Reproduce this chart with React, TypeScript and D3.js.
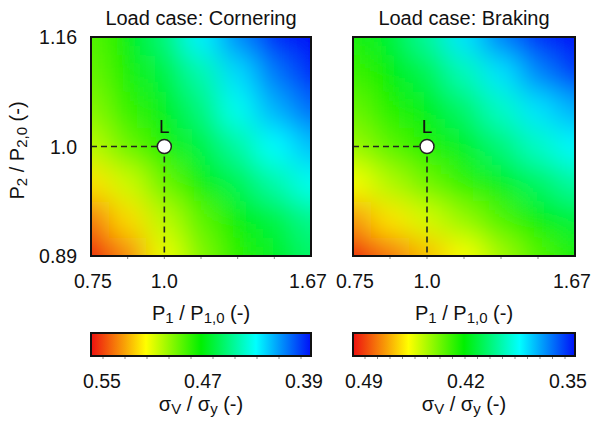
import React from 'react';
import * as d3 from 'd3';

// ---------- data ----------
const p1Levels = [0.75, 0.875, 1.0, 1.1675, 1.335, 1.5025, 1.67];
const p2Levels = [1.16, 1.1067, 1.0533, 1.0, 0.9633, 0.9267, 0.89]; // top -> bottom
const p1Ticks = [0.75, 1.0, 1.67];
const p1TickLabels = ['0.75', '1.0', '1.67'];
const p2Ticks = [1.16, 1.0, 0.89];
const p2TickLabels = ['1.16', '1.0', '0.89'];

// sigma_V / sigma_y, rows top (P2=1.16) -> bottom (P2=0.89), cols P1 0.75 -> 1.67
const corneringStress = [
  [0.483, 0.470, 0.452, 0.428, 0.410, 0.394, 0.385],
  [0.486, 0.473, 0.460, 0.443, 0.424, 0.407, 0.394],
  [0.491, 0.478, 0.467, 0.451, 0.432, 0.417, 0.405],
  [0.499, 0.486, 0.473, 0.460, 0.445, 0.430, 0.419],
  [0.515, 0.502, 0.486, 0.471, 0.458, 0.444, 0.432],
  [0.533, 0.516, 0.499, 0.484, 0.471, 0.460, 0.448],
  [0.556, 0.531, 0.507, 0.490, 0.476, 0.466, 0.454],
];
const brakingStress = [
  [0.423, 0.413, 0.399, 0.381, 0.366, 0.354, 0.345],
  [0.428, 0.420, 0.409, 0.395, 0.381, 0.367, 0.356],
  [0.434, 0.425, 0.417, 0.406, 0.393, 0.381, 0.373],
  [0.441, 0.432, 0.424, 0.415, 0.404, 0.393, 0.384],
  [0.454, 0.444, 0.435, 0.426, 0.417, 0.407, 0.398],
  [0.471, 0.459, 0.449, 0.440, 0.430, 0.420, 0.412],
  [0.495, 0.476, 0.465, 0.454, 0.442, 0.431, 0.423],
];
const corneringRange = [0.55, 0.39];
const brakingRange = [0.49, 0.35];
const corneringBarTicks = [0.55, 0.47, 0.39];
const corneringBarLabels = ['0.55', '0.47', '0.39'];
const brakingBarTicks = [0.49, 0.42, 0.35];
const brakingBarLabels = ['0.49', '0.42', '0.35'];
const titles = ['Load case: Cornering', 'Load case: Braking'];
const refP1 = 1.0;
const refP2 = 1.0;
const refLabel = 'L';
const colorStops = ['#ee1010', '#ffff00', '#00f000', '#00ffff', '#0010f8'];

const FONT = "'Liberation Sans', Arial, sans-serif";

type PanelProps = {
  id: string;
  x0: number;
  x1: number;
  title: string;
  stress: number[][];
  range: number[];
  barTicks: number[];
  barLabels: string[];
  barMinor: number;
  showY: boolean;
};

const y0 = 37;
const y1 = 256;
const cbY0 = 333;
const cbY1 = 356;

const colorT = d3.piecewise(d3.interpolateRgb, colorStops);

function Panel({ id, x0, x1, title, stress, range, barTicks, barLabels, barMinor, showY }: PanelProps) {
  const xScale = d3.scaleLinear().domain([0.75, 1.0, 1.67]).range([x0, x0 + (x1 - x0) / 3, x1]);
  const yScale = d3.scaleLinear().domain([0.89, 1.0, 1.16]).range([y1, (y0 + y1) / 2, y0]);
  const color = d3.scaleLinear<number>().domain(range).range([0, 1]);
  const cellColor = (v: number) => colorT(Math.max(0, Math.min(1, color(v))));

  const xs = p1Levels.map((p) => xScale(p));
  const ys = p2Levels.map((p) => yScale(p));
  const ext = 50;
  const bound = (arr: number[], i: number, lo: boolean) => {
    if (lo) return i === 0 ? arr[0] - ext : (arr[i - 1] + arr[i]) / 2;
    return i === arr.length - 1 ? arr[i] + ext : (arr[i] + arr[i + 1]) / 2;
  };

  const cbScale = d3.scaleLinear().domain(range).range([x0, x1]);
  const cbLabelScale = d3.scaleLinear().domain(range).range([x0 + 11, x1 - 7]);
  const gradStops = d3.range(0, 1.0001, 0.05);
  const minorTicks = d3.range(barMinor).map((i) => x0 + 12 + (i * (x1 - x0 - 22)) / (barMinor - 1));
  const tickLabelShift = [2, 0, -3];

  const cx = (x0 + x1) / 2;
  const rx = xScale(refP1);
  const ry = yScale(refP2);

  return (
    <g>
      <defs>
        <clipPath id={`clip-${id}`}>
          <rect x={x0} y={y0} width={x1 - x0} height={y1 - y0} />
        </clipPath>
        <filter id={`blur-${id}`} filterUnits="userSpaceOnUse" x={x0 - 80} y={y0 - 80} width={x1 - x0 + 160} height={y1 - y0 + 160}>
          <feGaussianBlur stdDeviation={14} />
        </filter>
        <linearGradient id={`grad-${id}`} x1="0" x2="1" y1="0" y2="0">
          {gradStops.map((t) => (
            <stop key={t} offset={t} stopColor={colorT(t)} />
          ))}
        </linearGradient>
      </defs>

      {/* title */}
      <text x={cx} y={25} textAnchor="middle" fontSize={20} fontFamily={FONT} fill="#111">
        {title}
      </text>

      {/* heat map */}
      <g clipPath={`url(#clip-${id})`}>
        <g filter={`url(#blur-${id})`}>
          {stress.map((row, r) =>
            row.map((v, c) => {
              const lx = bound(xs, c, true);
              const hx = bound(xs, c, false);
              const ly = bound(ys, r, true);
              const hy = bound(ys, r, false);
              return <rect key={`${r}-${c}`} x={lx} y={ly} width={hx - lx + 0.5} height={hy - ly + 0.5} fill={cellColor(v)} />;
            })
          )}
        </g>
      </g>

      {/* bottom minor ticks */}
      {p1Levels.slice(1, -1).map((p) => (
        <line key={p} x1={xScale(p)} x2={xScale(p)} y1={y1} y2={y1 + 3} stroke="#888" strokeWidth={1} />
      ))}

      {/* reference lines */}
      <line x1={x0} x2={rx} y1={ry} y2={ry} stroke="#222" strokeWidth={1.6} strokeDasharray="6,4" />
      <line x1={rx} x2={rx} y1={ry} y2={y1} stroke="#222" strokeWidth={1.6} strokeDasharray="6,4" />
      <circle cx={rx} cy={ry} r={7} fill="#fff" stroke="#222" strokeWidth={1.5} />
      <text x={rx} y={ry - 14} textAnchor="middle" fontSize={19} fontFamily={FONT} fill="#111">
        {refLabel}
      </text>

      <rect x={x0} y={y0} width={x1 - x0} height={y1 - y0} fill="none" stroke="#111" strokeWidth={2} />

      {/* x tick labels */}
      {p1Ticks.map((p, i) => (
        <text key={p} x={xScale(p) + tickLabelShift[i]} y={288} textAnchor="middle" fontSize={19.5} fontFamily={FONT} fill="#111">
          {p1TickLabels[i]}
        </text>
      ))}
      {/* x axis title */}
      <text x={cx} y={320} textAnchor="middle" fontSize={20} fontFamily={FONT} fill="#111">
        P<tspan fontSize={15} dy={3}>1</tspan>
        <tspan dy={-3}> / P</tspan>
        <tspan fontSize={15} dy={3}>1,0</tspan>
        <tspan dy={-3}> (-)</tspan>
      </text>

      {showY && (
        <g>
          {p2Ticks.map((p, i) => (
            <text key={p} x={x0 - 14} y={yScale(p) + 7} textAnchor="end" fontSize={19.5} fontFamily={FONT} fill="#111">
              {p2TickLabels[i]}
            </text>
          ))}
          <text transform={`translate(24, ${(y0 + y1) / 2 + 4}) rotate(-90)`} textAnchor="middle" fontSize={20} fontFamily={FONT} fill="#111">
            P<tspan fontSize={15} dy={3}>2</tspan>
            <tspan dy={-3}> / P</tspan>
            <tspan fontSize={15} dy={3}>2,0</tspan>
            <tspan dy={-3}> (-)</tspan>
          </text>
        </g>
      )}

      {/* colour bar */}
      <rect x={cbScale(range[0])} y={cbY0} width={cbScale(range[1]) - cbScale(range[0])} height={cbY1 - cbY0} fill={`url(#grad-${id})`} stroke="#111" strokeWidth={2} />
      {minorTicks.map((t, i) => (
        <line key={i} x1={t} x2={t} y1={cbY1 + 1} y2={cbY1 + 3} stroke="#888" strokeWidth={1} />
      ))}
      {barTicks.map((v, i) => (
        <text key={v} x={cbLabelScale(v)} y={388} textAnchor="middle" fontSize={19.5} fontFamily={FONT} fill="#111">
          {barLabels[i]}
        </text>
      ))}
      <text x={cx} y={411} textAnchor="middle" fontSize={20} fontFamily={FONT} fill="#111">
        σ<tspan fontSize={15} dy={3}>V</tspan>
        <tspan dy={-3}> / σ</tspan>
        <tspan fontSize={15} dy={3}>y</tspan>
        <tspan dy={-3}> (-)</tspan>
      </text>
    </g>
  );
}

export default function App() {
  return (
    <svg width={592} height={425} style={{ position: 'absolute', left: 0, top: 0, background: '#fff' }}>
      <rect width={592} height={425} fill="#fff" />
      <Panel id="c" x0={91} x1={311} title={titles[0]} stress={corneringStress} range={corneringRange}
        barTicks={corneringBarTicks} barLabels={corneringBarLabels} barMinor={10} showY={true} />
      <Panel id="b" x0={353} x1={575} title={titles[1]} stress={brakingStress} range={brakingRange}
        barTicks={brakingBarTicks} barLabels={brakingBarLabels} barMinor={17} showY={false} />
    </svg>
  );
}
